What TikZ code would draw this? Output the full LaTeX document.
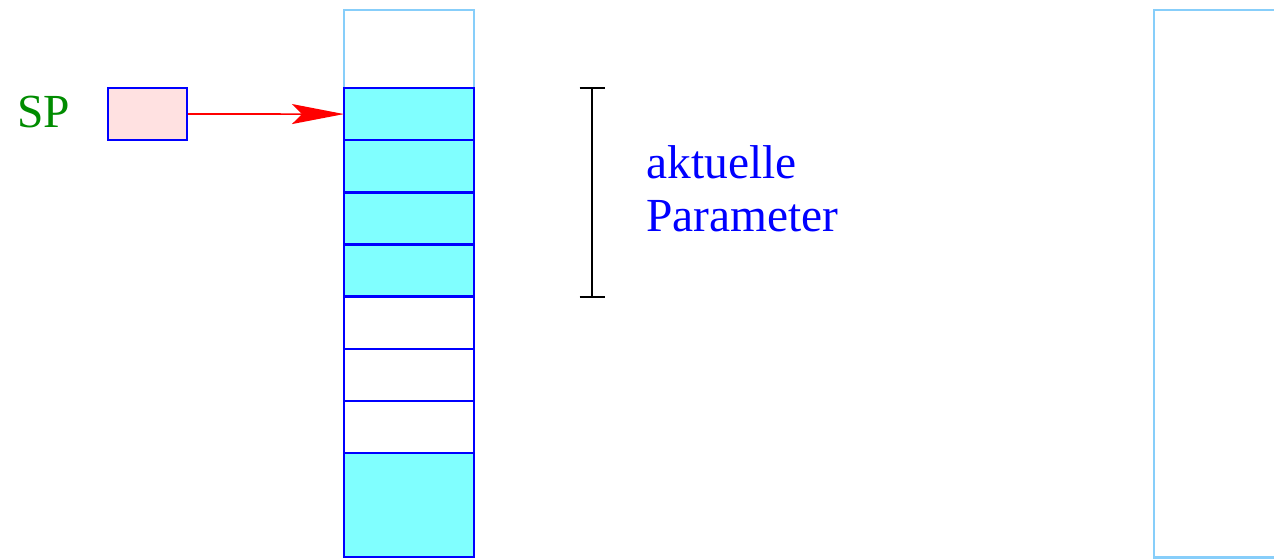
\documentclass[tikz,border=0pt]{standalone}
\usepackage{fontspec}
\setmainfont{Liberation Serif}
\usepackage{tikz}
\usetikzlibrary{positioning, arrows.meta}
\definecolor{argcyan}{RGB}{128,255,255}
\definecolor{freeblue}{RGB}{135,206,250}
\definecolor{regpink}{RGB}{255,225,225}
\definecolor{spgreen}{RGB}{0,140,0}
\tikzstyle{cell} = [rectangle, minimum width=2.6cm, minimum height=1.043cm, outer sep=0pt, draw=blue, line width=1.4pt]
\tikzstyle{argcell} = [cell, fill=argcyan]
\tikzstyle{freecell} = [cell, fill=white]
\tikzstyle{unused} = [rectangle, outer sep=0pt, draw=freeblue, line width=1.4pt]
\tikzstyle{register} = [rectangle, minimum width=1.58cm, minimum height=1.04cm, draw=blue, line width=1.4pt, fill=regpink]
\tikzstyle{biglabel} = [font=\fontsize{27}{30.5}\selectfont, inner sep=0pt]
\tikzstyle{arrow} = [red, line width=0.9pt, ->, >={Stealth[length=1.04cm, width=0.4cm, inset=0.2cm]}]

\begin{document}
\begin{tikzpicture}[node distance=1.043cm]
\useasboundingbox (0,0) rectangle (25.48,-11.18);

% stack
\node (top) [unused, minimum width=2.6cm, minimum height=1.56cm] at (8.18,-0.98) {};
\node (p1) [argcell, below=0cm of top] {};
\node (p2) [argcell, below of=p1] {};
\node (p3) [argcell, below of=p2] {};
\node (p4) [argcell, below of=p3] {};
\node (f1) [freecell, below of=p4] {};
\node (f2) [freecell, below of=f1] {};
\node (f3) [freecell, below of=f2] {};
\node (bottom) [argcell, minimum height=2.08cm, below=0cm of f3] {};

% second stack, cut off at the page edge
\node (other) [unused, minimum width=4cm, minimum height=10.95cm, anchor=north west] at (23.08,-0.2) {};

% stack pointer
\node (sp) [register] at (2.95,-2.28) {};
\node (splabel) [biglabel, text=spgreen, anchor=base] at (0.87,-2.56) {SP};
\draw [arrow] (sp.east) -- (p1.west);

% bracket over the parameters
\coordinate (bt) at (11.84,-1.76);
\coordinate (bb) at (11.84,-5.94);
\draw [line width=0.9pt] (bt) -- (bb);
\draw [line width=0.9pt] ([xshift=-0.25cm]bt) -- ([xshift=0.25cm]bt);
\draw [line width=0.9pt] ([xshift=-0.25cm]bb) -- ([xshift=0.25cm]bb);
\node (params) [biglabel, text=blue, align=left, anchor=base west] at (12.92,-4.64) {aktuelle\\Parameter};
\end{tikzpicture}
\end{document}
